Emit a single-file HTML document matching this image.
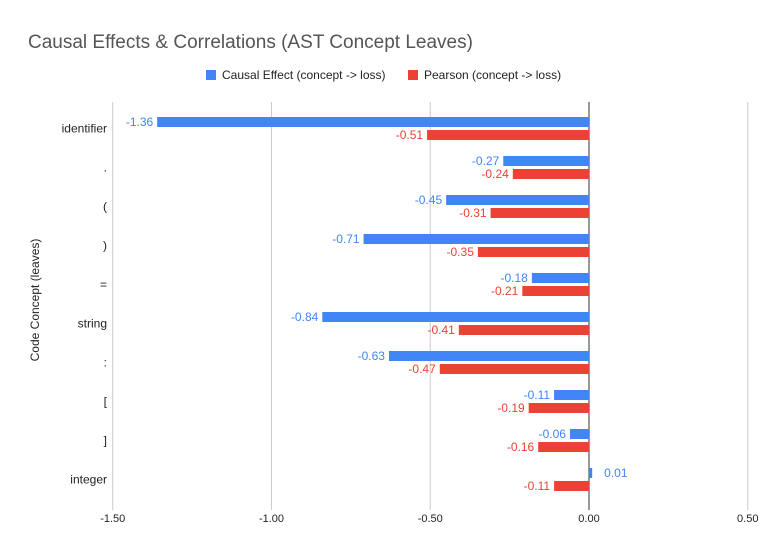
<!DOCTYPE html>
<html><head><meta charset="utf-8"><style>
body{margin:0;background:#fff;font-family:"Liberation Sans",Arial,sans-serif}
svg text{font-family:"Liberation Sans",Arial,sans-serif}
</style></head><body>
<svg id="chart" width="775" height="553" xmlns="http://www.w3.org/2000/svg">
<rect width="775" height="553" fill="#fff"/>
<text x="28" y="48" font-size="19" fill="#555">Causal Effects &amp; Correlations (AST Concept Leaves)</text>
<g>
<rect x="206" y="70" width="10" height="10" fill="#4285f4"/>
<text x="222" y="79" font-size="12" fill="#222">Causal Effect (concept -&gt; loss)</text>
<rect x="408" y="70" width="10" height="10" fill="#ea4335"/>
<text x="424" y="79" font-size="12" fill="#222">Pearson (concept -&gt; loss)</text>
</g>
<text transform="translate(39,300) rotate(-90)" text-anchor="middle" font-size="12" fill="#222">Code Concept (leaves)</text>
<g id="grid"></g><g id="bars"></g><g id="labels"></g>
</svg>
<script>
const categories=["identifier",".","(",")","=","string",":","[","]","integer"];
const causal=[-1.36,-0.27,-0.45,-0.71,-0.18,-0.84,-0.63,-0.11,-0.06,0.01];
const pearson=[-0.51,-0.24,-0.31,-0.35,-0.21,-0.41,-0.47,-0.19,-0.16,-0.11];
const ticks=[-1.5,-1.0,-0.5,0.0,0.5];
const NS="http://www.w3.org/2000/svg";
const x=v=>589+v*317.5;
const top0=109,band=39;
const yc=i=>top0+band*i+band/2;
function mk(tag,attrs,parent){const e=document.createElementNS(NS,tag);for(const k in attrs)e.setAttribute(k,attrs[k]);parent.appendChild(e);return e;}
const grid=document.getElementById('grid'),bars=document.getElementById('bars'),labels=document.getElementById('labels');
ticks.forEach(t=>{
 const l=mk('line',{x1:x(t),x2:x(t),y1:102,y2:510,stroke:t===0?'#333':'#ccc','stroke-width':1},grid);
 
 
 const tx=mk('text',{x:x(t),y:522,'text-anchor':'middle','font-size':11,fill:'#222'},grid);
 tx.textContent=t.toFixed(2);
 
 
});
categories.forEach((c,i)=>{
 const t=mk('text',{x:107,y:yc(i)+4,'text-anchor':'end','font-size':12,fill:'#222'},labels);
 t.textContent=c;
 
 
 [[causal,'#4285f4',-11.5,'causal'],[pearson,'#ea4335',1.5,'pearson']].forEach(([arr,col,off,nm])=>{
  const v=arr[i];const x0=Math.min(x(0),x(v)),w=Math.abs(x(v)-x(0));
  const r=mk('rect',{x:x0,y:yc(i)+off,width:Math.max(w,1),height:10,fill:col},bars);
  
  
  const lt=mk('text',{x:v<0?x(v)-4:x(v)+12,y:yc(i)+off+9,'text-anchor':v<0?'end':'start','font-size':12,fill:col},labels);
  lt.textContent=v.toFixed(2);
  
  
 });
});
</script>
</body></html>
